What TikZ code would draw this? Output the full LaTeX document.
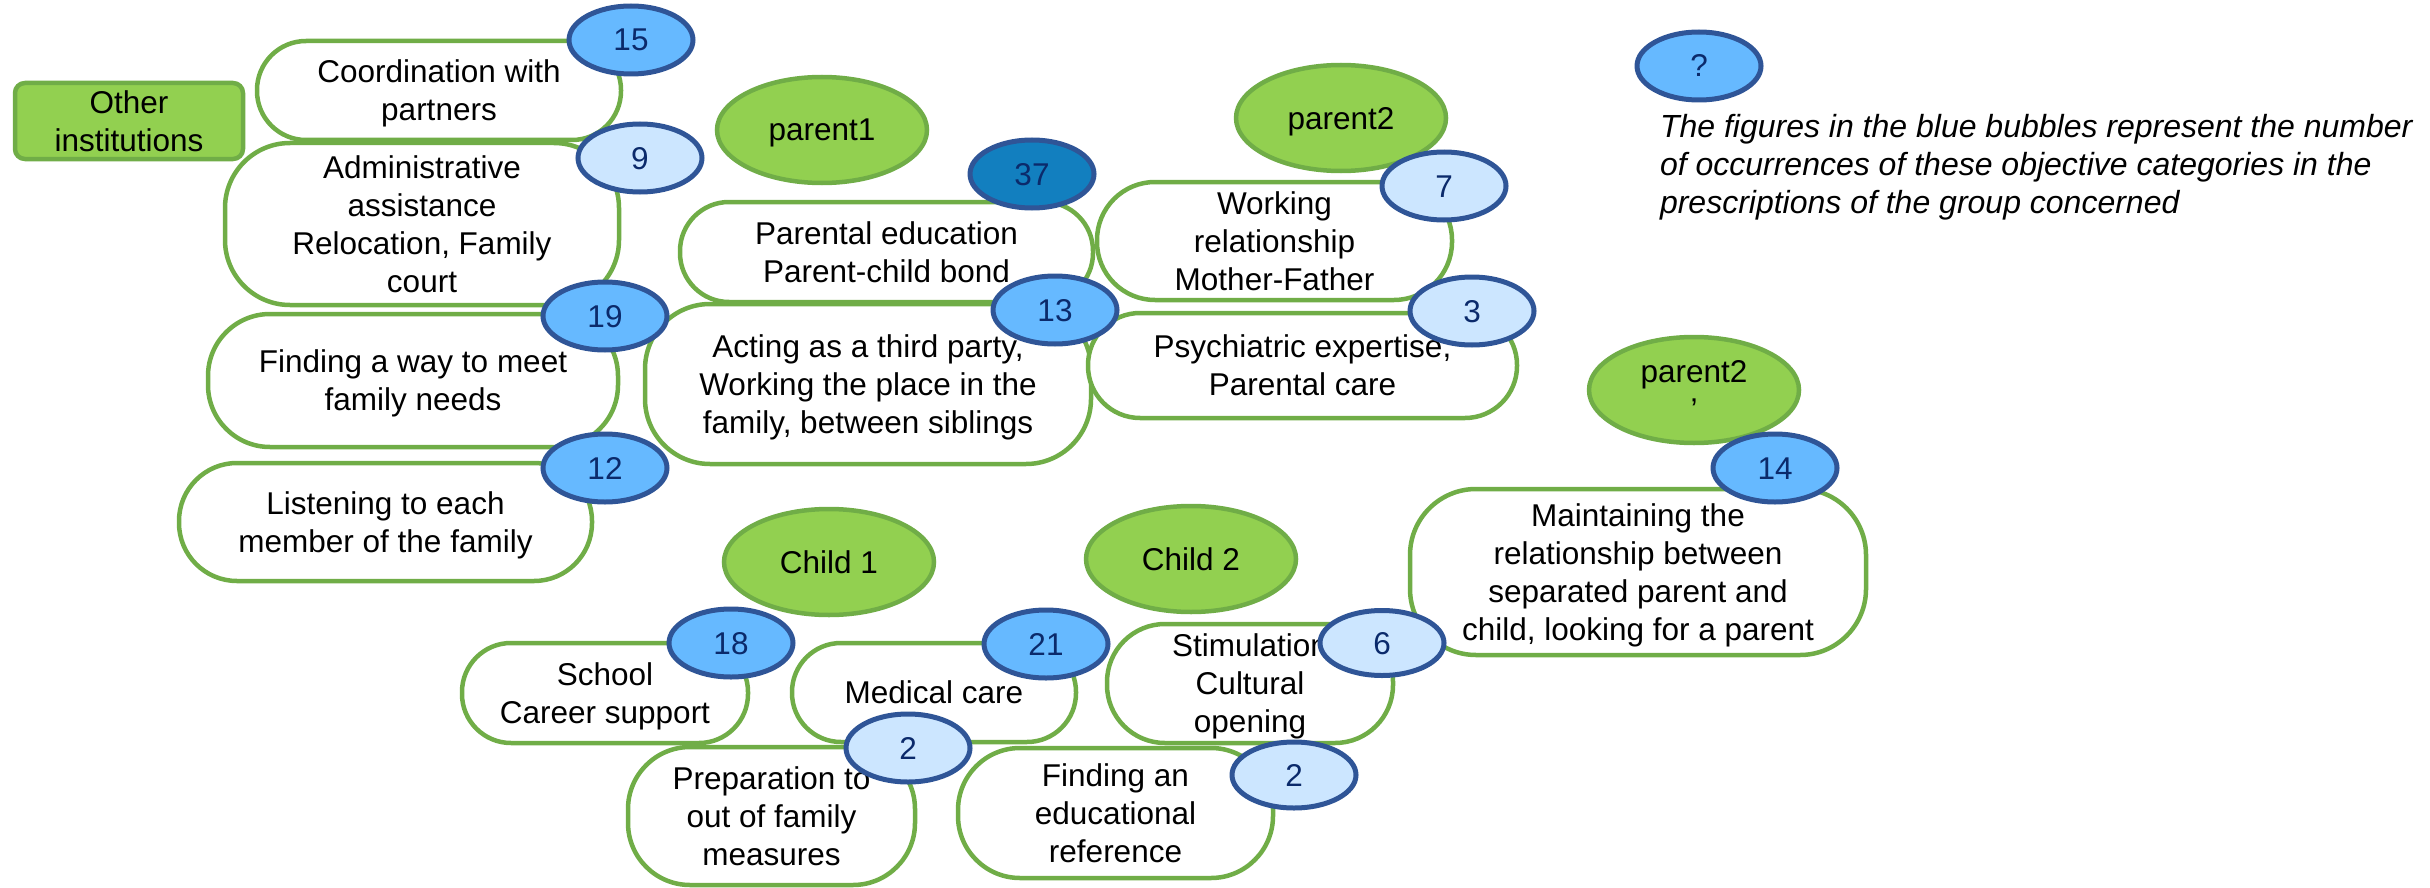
\documentclass[tikz,border=0pt]{standalone}
\usepackage{fontspec}
\setmainfont{Liberation Sans}
\usetikzlibrary{shapes.geometric}
\definecolor{gfill}{HTML}{92D050}
\definecolor{gline}{HTML}{70AD47}
\definecolor{bline}{HTML}{2F5597}
\definecolor{bmed}{HTML}{66B9FF}
\definecolor{blight}{HTML}{CCE6FF}
\definecolor{bdark}{HTML}{127FBF}
\definecolor{navy}{HTML}{0B2A6B}
\begin{document}
\begin{tikzpicture}[x=1pt,y=-1pt,
  every node/.style={font=\fontsize{31.5}{38}\selectfont, inner sep=0pt, outer sep=0pt},
  box/.style={draw=gline, line width=4.5pt, fill=white, align=center, text depth=0pt},
  lA/.style={text height=22pt},
  lB/.style={text height=60pt},
  lC/.style={text height=98pt},
  lD/.style={text height=136pt},
  grp/.style={ellipse, draw=gline, fill=gfill, line width=4.5pt, align=center, text depth=0pt, minimum width=210pt, minimum height=106pt},
  inst/.style={rectangle, rounded corners=10pt, draw=gline, fill=gfill, line width=4.5pt, align=center, text height=60pt, text depth=0pt, minimum width=228pt, minimum height=76pt},
  bub/.style={ellipse, draw=bline, line width=5pt, text=navy, text height=22pt, text depth=0pt, minimum width=124pt, minimum height=68pt},
  bmedium/.style={bub, fill=bmed},
  blt/.style={bub, fill=blight},
  bdk/.style={bub, fill=bdark},
  legendtext/.style={anchor=north west, align=left, text height=98pt, text depth=0pt, font=\fontsize{32}{38}\selectfont\itshape}
]
\useasboundingbox (0,0) rectangle (2430,888);

% group labels
\node[inst] (other) at (129,121) {Other\\institutions};
\node[grp, lA] (parent1) at (822,130) {parent1};
\node[grp, lA] (parent2) at (1341,118) {parent2};
\node[grp, lB] (parent2b) at (1694,390) {parent2\\’};
\node[grp, lA] (child1) at (829,562) {Child 1};
\node[grp, lA] (child2) at (1191,559) {Child 2};

% objective boxes
\node[box, lB, minimum width=364pt, minimum height=99pt, rounded corners=49pt] (coord) at (439,90.5) {Coordination with\\partners};
\node[box, lD, minimum width=394pt, minimum height=162pt, rounded corners=65pt] (admin) at (422,224) {Administrative\\assistance\\Relocation, Family\\court};
\node[box, lB, minimum width=410pt, minimum height=133pt, rounded corners=62pt] (needs) at (413,380.5) {Finding a way to meet\\family needs};
\node[box, lB, minimum width=413pt, minimum height=118pt, rounded corners=58pt] (listen) at (385.5,522) {Listening to each\\member of the family};
\node[box, lB, minimum width=413pt, minimum height=100pt, rounded corners=49pt] (paredu) at (886.5,252) {Parental education\\Parent-child bond};
\node[box, lC, minimum width=446pt, minimum height=160pt, rounded corners=65pt] (third) at (868,384) {Acting as a third party,\\Working the place in the\\family, between siblings};
\node[box, lC, minimum width=355pt, minimum height=118pt, rounded corners=58pt] (work) at (1274.5,241) {Working\\relationship\\Mother-Father};
\node[box, lB, minimum width=429pt, minimum height=105pt, rounded corners=52pt] (psy) at (1302.5,365.5) {Psychiatric expertise,\\Parental care};
\node[box, lD, minimum width=456pt, minimum height=166pt, rounded corners=66pt] (maint) at (1638,572) {Maintaining the\\relationship between\\separated parent and\\child, looking for a parent};
\node[box, lB, minimum width=286pt, minimum height=100pt, rounded corners=49pt] (school) at (605,693) {School\\Career support};
\node[box, lA, minimum width=284pt, minimum height=99pt, rounded corners=49pt] (medical) at (934,692.5) {Medical care};
\node[box, lC, minimum width=286pt, minimum height=119pt, rounded corners=58pt] (stim) at (1250,683.5) {Stimulation\\Cultural\\opening};
\node[box, lC, minimum width=287pt, minimum height=138pt, rounded corners=62pt] (prep) at (771.5,816) {Preparation to\\out of family\\measures};
\node[box, lC, minimum width=315pt, minimum height=130pt, rounded corners=62pt] (eduref) at (1115.5,813) {Finding an\\educational\\reference};

% count bubbles
\node[bmedium] (n15) at (631,40) {15};
\node[blt] (n9) at (640,158) {9};
\node[bmedium] (n19) at (605,316) {19};
\node[bmedium] (n12) at (605,468) {12};
\node[bdk] (n37) at (1032,174) {37};
\node[bmedium] (n13) at (1055,310) {13};
\node[blt] (n7) at (1444,186) {7};
\node[blt] (n3) at (1472,311) {3};
\node[bmedium] (n14) at (1775,468) {14};
\node[bmedium] (n18) at (731,643) {18};
\node[bmedium] (n21) at (1046,644) {21};
\node[blt, minimum height=65pt] (n6) at (1382,643) {6};
\node[blt] (n2a) at (908,748) {2};
\node[blt, minimum height=66pt] (n2b) at (1294,775) {2};

% legend
\node[bmedium] (qmark) at (1699,66) {?};
\node[legendtext] (legend) at (1660,115) {The figures in the blue bubbles represent the number\\of occurrences of these objective categories in the\\prescriptions of the group concerned};
\end{tikzpicture}
\end{document}
